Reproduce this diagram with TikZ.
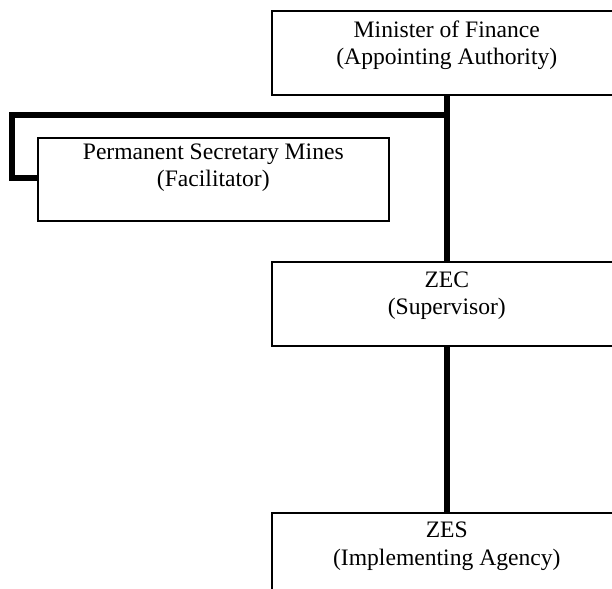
\documentclass[tikz,border=0pt]{standalone}
\usepackage{fontspec}
\setmainfont{Liberation Serif}
\begin{document}
\begin{tikzpicture}[x=1pt,y=-1pt,
  box/.style={draw, line width=1.6pt, inner sep=0pt, anchor=north west, minimum height=84pt},
  lbl/.style={anchor=north, align=center, inner sep=0pt, font=\fontsize{23.6}{27.5}\selectfont},
  conn/.style={line width=5.5pt}]
\useasboundingbox (0,0) rectangle (612,588);
\clip (0,0) rectangle (612,588);
% boxes
\node[box, minimum width=350pt] (mof) at (271,10.5) {};
\node[box, minimum width=351pt, minimum height=83pt] (ps) at (37,137) {};
\node[box, minimum width=350pt] (zec) at (271,261) {};
\node[box, minimum width=350pt] (zes) at (271,512) {};
% texts
\node[lbl] (mofT) at ([yshift=-10pt]mof.north) {Minister of Finance\\(Appointing Authority)};
\node[lbl] (psT) at ([yshift=-6.5pt]ps.north) {Permanent Secretary Mines\\(Facilitator)};
\node[lbl] (zecT) at ([yshift=-10.5pt]zec.north) {ZEC\\(Supervisor)};
\node[lbl] (zesT) at ([yshift=-10pt]zes.north) {ZES\\(Implementing Agency)};
% connectors
\coordinate (j) at (446,115);
\draw[conn] (mof.south) -- (zec.north);
\draw[conn] (zec.south) -- (zes.north);
\draw[conn] ([xshift=2.75pt]j) -- (12,115) -- (12,178) -- (ps.west |- 0,178);
\end{tikzpicture}
\end{document}
